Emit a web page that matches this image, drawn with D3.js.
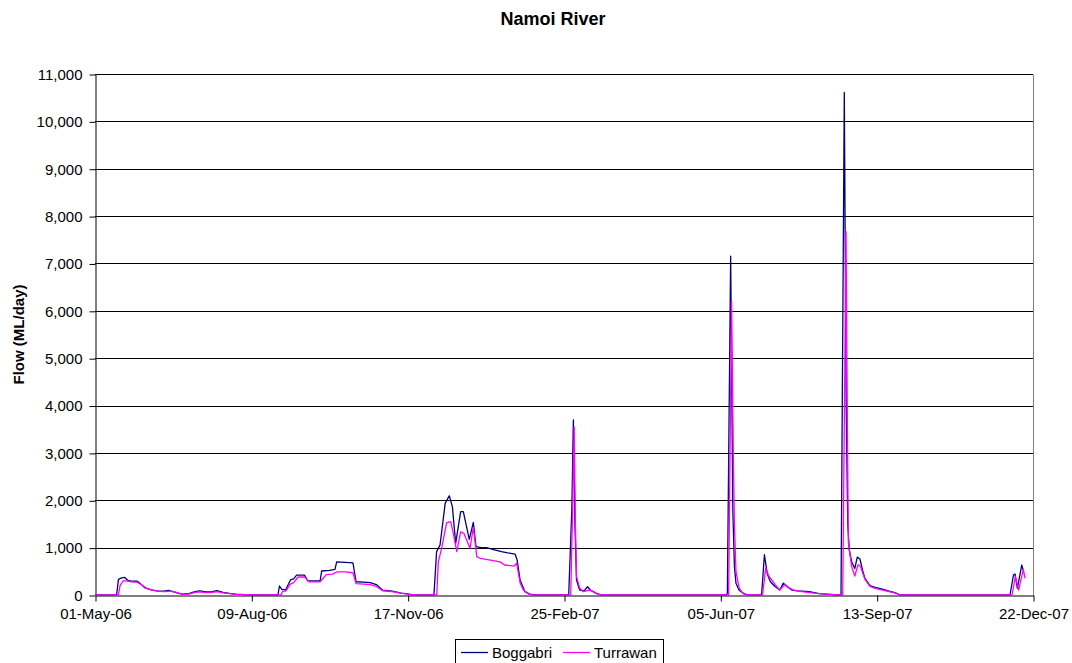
<!DOCTYPE html>
<html><head><meta charset="utf-8">
<script src="https://cdn.jsdelivr.net/npm/d3@7"></script>
<style>body{margin:0;background:#fff;}svg{display:block;font-family:"Liberation Sans",Arial,sans-serif;}</style>
</head><body><svg id="c" width="1072" height="663"></svg>
<script>
// ---- data (day offsets from 01-May-06, flow ML/day) ----
const startDate = "2006-05-01";
const endDate = "2007-12-22";
const tickLabels = ["01-May-06","09-Aug-06","17-Nov-06","25-Feb-07","05-Jun-07","13-Sep-07","22-Dec-07"];
const yTicks = [0,1000,2000,3000,4000,5000,6000,7000,8000,9000,10000,11000];
const seriesNames = ["Boggabri","Turrawan"];

const boggabriDays = [0,13.8,15,17,19,21,24,27,29,32,36,40,44,47,50,53,56,60,64,67,71,75,78,82,86,90,96,104,
 117,118,119.5,122,125,127,129,134,136,144,145,150,153.5,154.6,160,165,167,172,176,180,184,190,196,200,203,
 216.8,218.5,220.7,224,226.6,228.6,230.7,233.9,235.6,239.4,242,243.7,247,250.5,255,260,264,268.7,270,271.9,275,278,281.5,
 303,305,306,307,308,310,313,315,317,318.7,321,324,
 404,404.5,406.6,408,409,410,412,415,418,
 426,426.5,428.2,430,432,435,438,440.3,443,445.7,450,457,463,470,476,
 477.2,479.3,480.5,481.5,482.5,484,486,487.6,489.3,491,492.5,495.7,499,503,508,511.7,515,
 585.3,587.5,588.5,590,592.8,593.8];
const boggabriFlow = [0,0,330,360,370,310,290,290,240,150,110,85,80,100,70,40,20,30,70,85,65,70,90,55,35,20,10,0,
 0,190,120,110,317,340,420,420,300,300,507,520,540,700,690,680,280,270,260,220,100,80,40,25,0,
 0,915,1055,1935,2095,1865,1090,1760,1760,1175,1535,1020,1000,1000,960,915,890,865,740,317,70,20,0,
 0,1800,3695,1500,317,105,90,175,100,70,30,0,
 0,50,7156,1800,600,250,100,30,0,
 0,50,850,450,280,180,105,250,170,105,85,70,30,15,0,
 0,10612,4000,1500,950,700,560,800,760,520,350,200,160,130,80,50,0,
 0,422,443,140,633,513];

const turrawanDays = [0,15,16,18,20,23,27,30,33,37,41,45,48,52,56,60,64,67,71,75,78,82,86,90,96,104,
 119,120,122,125,127,130,134,137,144,148,152,155,160,165,167,172,176,180,184,190,196,200,203,
 218.6,219.6,221.7,224.9,227.5,229.2,231.4,233.9,236,239.9,242,244.2,246.3,252,259,262,266,268,269.7,272,274,277,280,
 304.3,305.5,306.5,307.3,308,310,312.3,316.2,318,321,324,
 405.3,407.2,408.3,409,410,412,414,416,
 427,429,431,432.9,435.5,438,441.4,444,447,452,460,470,476,
 478.3,480.4,481.3,481.9,484,486,488.1,489.7,491,492.5,495.7,499,503,508,512,515,
 586.6,588.7,590.8,593.8,594.9];
const turrawanFlow = [0,0,200,300,300,280,270,210,140,100,75,70,80,55,15,20,55,65,50,55,70,45,30,15,8,0,
 0,80,80,230,260,380,380,280,280,430,440,490,490,470,240,230,220,180,90,70,35,20,0,
 0,700,985,1525,1550,1300,915,1335,1300,985,1430,810,775,740,700,633,620,610,670,247,105,30,0,
 0,1800,3550,1500,387,150,70,105,80,30,0,
 0,6200,3000,1500,500,150,50,0,
 0,563,400,317,200,105,225,150,100,70,40,15,0,
 0,7670,3500,1100,600,400,640,600,470,330,180,140,110,70,40,0,
 0,387,105,540,352];

// ---- chart ----
const W = 1072, H = 663;
const m = {left:95, right:39, top:74, bottom:68};
const svg = d3.select("#c");
const parse = d3.utcParse("%d-%b-%y");
const fmt = d3.utcFormat("%d-%b-%y");
const t0 = new Date(startDate + "T00:00:00Z");
const dayToDate = d => new Date(t0.getTime() + d * 86400000);

const x = d3.scaleUtc().domain([t0, new Date(endDate + "T00:00:00Z")]).range([m.left, W - m.right]);
const y = d3.scaleLinear().domain([0, 11000]).range([H - m.bottom, m.top]);

// gridlines
svg.append("g").selectAll("line").data(yTicks.filter(v => v > 0)).join("line")
  .attr("x1", m.left).attr("x2", W - m.right)
  .attr("y1", d => Math.round(y(d)) + 0.5).attr("y2", d => Math.round(y(d)) + 0.5)
  .attr("stroke", "#000").attr("stroke-width", 1);
// right border
svg.append("line").attr("x1", W - m.right + 0.5).attr("x2", W - m.right + 0.5)
  .attr("y1", Math.round(y(11000)) + 0.5).attr("y2", Math.round(y(0)) + 0.5)
  .attr("stroke", "#808080").attr("stroke-width", 1);

// y axis
const yAxis = d3.axisLeft(y).tickValues(yTicks).tickFormat(d3.format(",")).tickSize(6).tickSizeOuter(0);
const gy = svg.append("g").attr("transform", `translate(${m.left + 0.5},0.5)`).call(yAxis);
gy.selectAll("text").attr("font-size", 15).attr("fill", "#000").attr("x", -13);
gy.selectAll("line,path").attr("stroke", "#000");

// x axis
const xAxis = d3.axisBottom(x).tickValues(tickLabels.map(parse)).tickFormat(fmt).tickSize(6).tickSizeOuter(0);
const gx = svg.append("g").attr("transform", `translate(0.5,${Math.round(y(0)) + 0.5})`).call(xAxis);
gx.selectAll("text").attr("font-size", 15).attr("fill", "#000").attr("dy", "1.05em").attr("y", 8);
gx.selectAll("line,path").attr("stroke", "#000");

// lines
const line = d3.line().x(d => x(dayToDate(d[0]))).y(d => y(d[1]));
const bog = boggabriDays.map((d, i) => [d, boggabriFlow[i]]);
const tur = turrawanDays.map((d, i) => [d, turrawanFlow[i]]);
const colors = ["#000080", "#FF00FF"];
[bog, tur].forEach((s, i) => {
  svg.append("path").datum(s).attr("d", line).attr("fill", "none")
    .attr("stroke", colors[i]).attr("stroke-width", 1.3).attr("stroke-linejoin", "round");
});

// title
svg.append("text").attr("x", 553).attr("y", 25).attr("text-anchor", "middle")
  .attr("font-size", 18).attr("font-weight", "bold").text("Namoi River");
// y label
svg.append("text").attr("transform", `translate(24,${(m.top + H - m.bottom) / 2}) rotate(-90)`)
  .attr("text-anchor", "middle").attr("font-size", 15).attr("font-weight", "bold").text("Flow (ML/day)");

// legend
const lg = svg.append("g");
lg.append("rect").attr("x", 455.5).attr("y", 639.5).attr("width", 208).attr("height", 30)
  .attr("fill", "#fff").attr("stroke", "#000");
const lx = [461, 563], tx = [492, 594];
seriesNames.forEach((n, i) => {
  lg.append("line").attr("x1", lx[i]).attr("x2", lx[i] + 27).attr("y1", 652.5).attr("y2", 652.5)
    .attr("stroke", colors[i]).attr("stroke-width", 1.3);
  lg.append("text").attr("x", tx[i]).attr("y", 658).attr("font-size", 15).text(n);
});
</script></body></html>
